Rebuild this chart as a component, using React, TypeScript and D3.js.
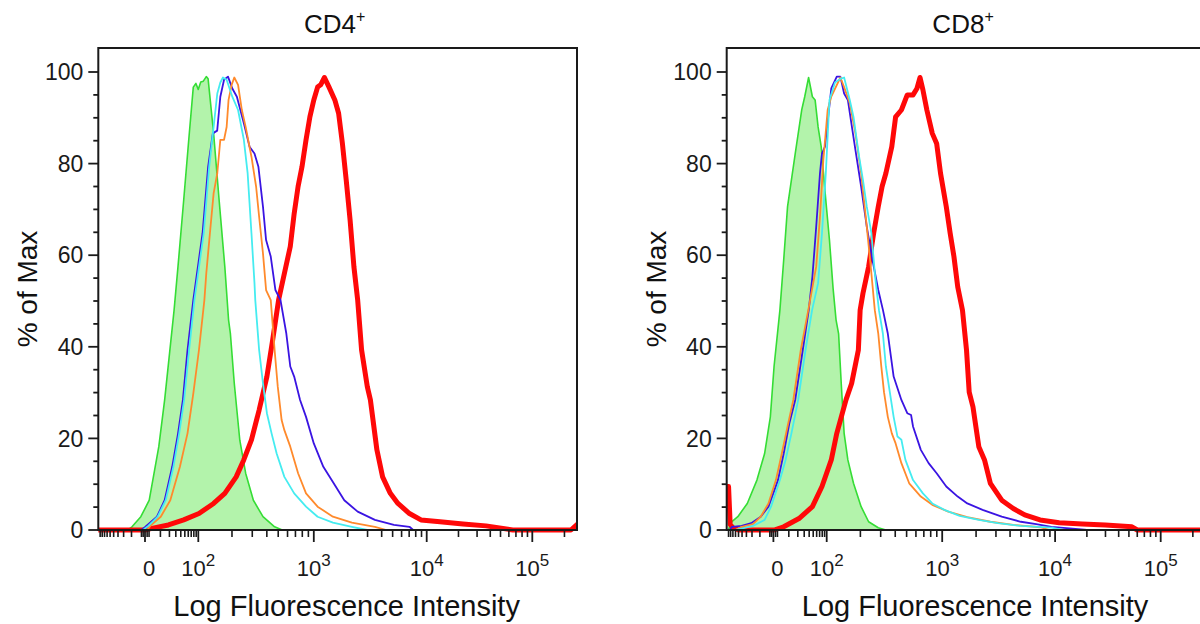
import React from 'react';
import * as d3 from 'd3';

type Pt = [number, number];

// ---------- text ----------
const panelTitles = ['CD4', 'CD8'];
const titleSup = '+';
const yAxisTitle = '% of Max';
const xAxisTitle = 'Log Fluorescence Intensity';

// ---------- ticks ----------
const yTickValues = [0, 20, 40, 60, 80, 100];
const yMinorStep = 5;
const xMajorTicks = [0, 100, 1000, 10000, 100000];
const xMajorExponents = ['', '2', '3', '4', '5'];
const xNegMinor = [-90, -80, -70, -60, -50, -40, -30, -20, -10, -2, -1, 1, 2];
const xLinMinor = [10, 20, 30, 40, 50, 60, 70, 80, 90];
const xDecadeMult = [2, 3, 4, 5, 6, 7, 8, 9];
const xDecades = [100, 1000, 10000];
const xTopMinor = [200000];

// ---------- data: CD4+ ----------
const cd4Green: Pt[] = [[-100,0],[-14,0],[-9.5,0.7],[-2.4,2.9],[2.1,6.5],[8.6,18.2],[14.2,28.4],[27,48],[34.1,57.5],[47,72],[61.6,85.2],[77.8,96.7],[88.8,97.5],[99.6,96.2],[105.3,97.8],[111.1,98],[118.2,99],[122.8,98.5],[137.6,86.6],[154.1,72],[173,57.5],[186.6,45.9],[193.8,42.8],[209.5,32],[234,19.6],[263,12.4],[306.6,6.5],[370.7,2.9],[466,0.7],[541,0],[262144,0]];
const cd4Blue: Pt[] = [[-100,0],[-2,0],[0.2,0.7],[7.1,2.9],[14.2,6.5],[24,13.8],[34.1,21],[45,28.4],[57.7,39.3],[77.8,50.2],[109.4,64.8],[122.8,79.3],[135.4,86.6],[148.1,87.2],[157.9,94.6],[170.3,98.3],[184.5,99],[201.3,96.4],[220.7,94.6],[253.7,88.8],[284.1,83.7],[313.4,82.2],[338.8,79.3],[370.7,70.6],[394.1,63.3],[432,59.7],[473.5,52.4],[523,50.2],[586,42.9],[633,35.7],[683,33.5],[766,28.4],[860,24.7],[1000,18.9],[1216,13.8],[1479,10.5],[1866,6.5],[2453,4],[3484,2.2],[5133,1.1],[7041,0.7],[7600,0],[262144,0]];
const cd4Cyan: Pt[] = [[-100,0],[-1,0],[1.1,0.7],[7.7,2.9],[15.4,6.5],[25.9,13.8],[36.4,21],[48.1,28.4],[62.7,39.3],[82.3,50.2],[112,64.8],[125.5,79.3],[137.6,88],[148.4,95.3],[157.9,97.7],[166.6,98.8],[179.5,98.3],[201.3,94.6],[226,91.7],[253.7,85.2],[273.6,77.9],[295.2,64.8],[313.4,53.9],[318.4,50.2],[343.6,39.3],[370.7,32],[400.5,25.5],[439,21.1],[485,16.7],[564,11.6],[683,8],[860,5.1],[1081,2.9],[1479,1.6],[2180,0.7],[2985,0],[262144,0]];
const cd4Orange: Pt[] = [[-100,0],[1,0],[3.2,1.1],[10.3,2.9],[21.2,6.5],[38.1,13.8],[57.7,21.1],[77.8,29.8],[101.4,39.3],[113.6,50.2],[118.2,56],[127.5,64.8],[137.6,73.5],[148.4,77.9],[157.9,85.2],[170.3,85.2],[179.5,88],[186.6,93.9],[198.6,97.2],[209.5,98.8],[226,97.2],[243.8,91.7],[263,88],[295.2,81.5],[323.6,75],[343.6,68.4],[370.7,60.4],[394.1,52.4],[432,50.2],[466,39.3],[495.7,31.3],[534.6,24],[564,21.8],[633,18.2],[737,12.4],[860,8],[1081,5.1],[1479,2.9],[2180,1.6],[3484,0.7],[4400,0],[262144,0]];
const cd4Red: Pt[] = [[-100,0],[0,0],[4.3,0.4],[18.7,1.1],[47,2.2],[101.4,3.6],[137.6,5.8],[173,8],[217.6,11.6],[253.2,15.3],[295.2,19.7],[343.6,26.2],[400.5,33.5],[448.7,41.5],[503.7,50.2],[564,56],[633,61.9],[683,69.1],[737,75],[795,79.3],[860,85.2],[927,90.2],[1000,93.9],[1081,96.7],[1151,97.2],[1244,98.8],[1366,96.7],[1538,93.9],[1662,91],[1796,84.4],[1941,76.4],[2101,67.7],[2271,57.5],[2453,50.2],[2657,39.3],[2985,31.3],[3179,28.4],[3629,17.5],[4076,11.6],[4770,8],[5570,5.8],[7041,3.6],[8903,2.2],[13366,1.8],[22070,1.3],[36430,0.9],[65360,0],[230000,0],[262144,1.2]];

// ---------- data: CD8+ ----------
const cd8Green: Pt[] = [[-100,0],[-90,0],[-82.3,1.5],[-52.2,2.9],[-28.2,5.8],[-13.3,10.9],[-5.7,16.7],[-1.7,24.7],[0.3,35.7],[3.4,48],[5.9,59],[8.9,70.6],[16.7,82.2],[25.7,91.7],[30.9,94.6],[38.7,98.8],[47.8,94.6],[55.3,93.9],[64.7,88],[75.9,83.7],[95.7,72],[106,63.3],[114.3,52.8],[121.6,45.9],[128.3,42.8],[135.4,32],[143.7,21.1],[155.1,15.3],[174,10.2],[203,5.1],[236,1.8],[286,0.5],[332,0],[262144,0]];
const cd8Blue: Pt[] = [[-100,0],[-85,0],[-73.9,0.7],[-41.2,0.9],[-21.2,1.5],[-9.2,2.9],[-2.9,5.1],[2.3,10.9],[5.9,16.7],[10.5,23.3],[16.7,28.4],[27.5,39.3],[39,48],[47.8,55.3],[58.6,66.2],[71.3,77.9],[78.9,82.2],[91.9,83.7],[110.1,96.4],[123.5,99],[133,99],[143.7,95.3],[155.1,93.9],[165,89.5],[180.9,83],[203,75],[227.5,66.2],[254.8,59],[286,52.4],[314,48],[345.5,42.9],[387.6,33.5],[451.4,28.4],[506.5,25.5],[546,25.1],[567,22.6],[660,17.5],[768,14.6],[897.8,12.4],[1087,9.5],[1374,7.3],[1672,5.8],[2284,4.4],[3375,2.9],[4983,1.8],[6811,1.3],[9302,0.7],[16620,0.2],[20000,0],[262144,0]];
const cd8Cyan: Pt[] = [[-100,0],[-60,0],[-41.2,0.3],[-18.4,0.9],[-5.7,2.2],[-1.3,5.1],[3.4,10.9],[7.3,15.3],[12.5,21.1],[20.5,28.4],[32.4,39.3],[47,48],[64.7,53.9],[78.9,64.8],[95.7,77.9],[106,93.9],[119,97.7],[133,98.5],[143.7,98.8],[161.3,93.9],[174,90.2],[194.9,81.5],[210.7,76.4],[227.5,70.6],[249.4,64.8],[268.8,55.3],[290,48],[313.4,42.9],[332.6,35.7],[359.5,30.1],[387.6,24.7],[418,20.4],[451.4,19.7],[488.5,15.3],[567,10.9],[687.5,8],[825,5.8],[1046,4.4],[1429,3.1],[2115,2.2],[3121,1.5],[4983,0.9],[9302,0.5],[12000,0],[262144,0]];
const cd8Orange: Pt[] = [[-100,0],[-60,0],[-41.2,0.7],[-18.4,1.3],[-9.2,2.9],[-2.9,5.8],[1.2,10.9],[4.6,16.7],[8.9,22.6],[14.5,28.4],[24.3,39.3],[38,48],[58.6,57.5],[71.3,68.4],[84.7,80.8],[102,91.7],[110.1,94.6],[133,98.8],[143.7,96.7],[161.3,93.2],[180.9,86.6],[203,77.9],[227.5,66.2],[249.4,56],[267,48],[286,42.9],[303.8,35.7],[320.5,30.1],[345.5,24.7],[373.8,21.1],[403,18.9],[451.4,14.6],[526,10.2],[660,7.3],[825,5.5],[1132,4],[1672,2.8],[2677,1.8],[4268,1.1],[7366,0.6],[9000,0],[262144,0]];
const cd8Red: Pt[] = [[-100,9.5],[-90,9.5],[-82,1.2],[-70,0.5],[-50,0],[0.3,0],[5.9,0.7],[21.6,2.5],[47.8,5.1],[78.9,9.5],[110.1,15.3],[123.5,21.1],[149.3,28.4],[167.5,32],[192,39.3],[199,48],[210.7,51.7],[236,57.5],[261,64.8],[286,70.6],[308.6,75],[332.6,77.9],[373.8,83.7],[403,90.2],[451.4,91.7],[506.5,95],[567,95],[612,96.4],[650,98.8],[687.5,96.1],[742.4,91.7],[825,86.6],[897.8,84.4],[968,77.9],[1087,70.6],[1177,64.8],[1272,59.7],[1374,53.1],[1515,48],[1645,39.3],[1738,30.1],[1877,26.9],[2115,18.2],[2376,15.3],[2677,10.2],[3375,6.5],[4268,4.7],[5389,3.3],[7366,2.2],[10935,1.6],[18070,1.3],[29840,1.1],[53400,0.7],[60000,0],[262144,0]];

// ---------- layout / style ----------
const W = 1200;
const H = 624;
const FONT = '"Liberation Sans", Arial, Helvetica, sans-serif';
const PANEL_LEFT = [98.3, 726.7];
const FRAME_W = 478.7;
const FRAME_TOP = 48;
const AXIS_Y = 530;
const Y_MAX = 105.24;
const X_DOMAIN = [-100, 0, 100, 1000, 10000, 100000, 262144];
const X_RANGE_REL = [0, 46.7, 100, 215.5, 328.4, 434, 478.7];
const COLORS = {
  greenFill: '#b3f3ab',
  green: '#35dd35',
  blue: '#3a14e2',
  cyan: '#45ecf0',
  orange: '#ff8a2c',
  red: '#ff0808',
};

const xMinorTicks = [
  ...xNegMinor,
  ...xLinMinor,
  ...xDecades.flatMap((d) => xDecadeMult.map((m) => m * d)),
  ...xTopMinor,
];

interface Series {
  green: Pt[];
  blue: Pt[];
  cyan: Pt[];
  orange: Pt[];
  red: Pt[];
}

const panels: { title: string; series: Series }[] = [
  { title: panelTitles[0], series: { green: cd4Green, blue: cd4Blue, cyan: cd4Cyan, orange: cd4Orange, red: cd4Red } },
  { title: panelTitles[1], series: { green: cd8Green, blue: cd8Blue, cyan: cd8Cyan, orange: cd8Orange, red: cd8Red } },
];

function Panel({ idx, left, title, series }: { idx: number; left: number; title: string; series: Series }) {
  const x = d3
    .scaleSymlog()
    .constant(10)
    .domain(X_DOMAIN)
    .range(X_RANGE_REL.map((r) => left + r));
  const y = d3.scaleLinear().domain([0, Y_MAX]).range([AXIS_Y, FRAME_TOP]);
  const line = d3
    .line<Pt>()
    .x((d) => x(d[0]))
    .y((d) => y(d[1]));
  const area = d3
    .area<Pt>()
    .x((d) => x(d[0]))
    .y0(y(0))
    .y1((d) => y(d[1]));
  const clipId = `clip-${idx}`;
  const yMinor = d3.range(0, 100 + 0.001, yMinorStep);
  const cx = left + FRAME_W / 2;

  return (
    <g>
      <defs>
        <clipPath id={clipId}>
          <rect x={left} y={FRAME_TOP} width={FRAME_W} height={AXIS_Y - FRAME_TOP + 4} />
        </clipPath>
      </defs>
      <g clipPath={`url(#${clipId})`} strokeLinejoin="round" strokeLinecap="round" fill="none">
        <path d={area(series.green) || ''} fill={COLORS.greenFill} stroke="none" />
        <path d={line(series.green) || ''} stroke={COLORS.green} strokeWidth={1.6} />
        <path d={line(series.red) || ''} stroke={COLORS.red} strokeWidth={5} />
        <path d={line(series.blue) || ''} stroke={COLORS.blue} strokeWidth={1.8} />
        <path d={line(series.orange) || ''} stroke={COLORS.orange} strokeWidth={1.8} />
        <path d={line(series.cyan) || ''} stroke={COLORS.cyan} strokeWidth={1.8} />
      </g>
      {/* frame */}
      <rect x={left} y={FRAME_TOP} width={FRAME_W} height={AXIS_Y - FRAME_TOP} fill="none" stroke="#1a1a1a" strokeWidth={2} />
      {/* y ticks */}
      {yMinor.map((v) => {
        const major = yTickValues.includes(v);
        return (
          <line key={`ym${v}`} x1={left - (major ? 10 : 5)} x2={left} y1={y(v)} y2={y(v)} stroke="#1a1a1a" strokeWidth={1.8} />
        );
      })}
      {yTickValues.map((v) => (
        <text key={`yl${v}`} x={left - 15} y={y(v)} dy="0.36em" textAnchor="end" fontSize={23} fill="#1a1a1a">
          {v}
        </text>
      ))}
      {/* x ticks */}
      {xMinorTicks.map((v) => (
        <line key={`xm${v}`} x1={x(v)} x2={x(v)} y1={AXIS_Y} y2={AXIS_Y + 7} stroke="#1a1a1a" strokeWidth={1.6} />
      ))}
      {xMajorTicks.map((v) => (
        <line key={`xM${v}`} x1={x(v)} x2={x(v)} y1={AXIS_Y} y2={AXIS_Y + 12} stroke="#1a1a1a" strokeWidth={1.8} />
      ))}
      {xMajorTicks.map((v, i) =>
        xMajorExponents[i] === '' ? (
          <text key={`xl${v}`} x={x(v) + 4} y={576} textAnchor="middle" fontSize={22} fill="#1a1a1a">
            0
          </text>
        ) : (
          <text key={`xl${v}`} x={x(v)} y={576} textAnchor="middle" fontSize={22} fill="#1a1a1a">
            10
            <tspan fontSize={17} dy={-10}>
              {xMajorExponents[i]}
            </tspan>
          </text>
        )
      )}
      {/* titles */}
      <text x={cx - 3} y={33} textAnchor="middle" fontSize={26} fill="#111">
        {title}
        <tspan fontSize={16} dy={-11}>
          {titleSup}
        </tspan>
      </text>
      <text x={cx + 9} y={616} textAnchor="middle" fontSize={29} fill="#111">
        {xAxisTitle}
      </text>
      <text
        transform={`translate(${left - 71}, ${(FRAME_TOP + AXIS_Y) / 2}) rotate(-90)`}
        textAnchor="middle"
        dy="0.35em"
        fontSize={28}
        fill="#111"
      >
        {yAxisTitle}
      </text>
    </g>
  );
}

export default function App() {
  return (
    <svg
      width={W}
      height={H}
      viewBox={`0 0 ${W} ${H}`}
      style={{ position: 'absolute', left: 0, top: 0, background: '#fff' }}
      fontFamily={FONT}
    >
      <rect x={0} y={0} width={W} height={H} fill="#fff" />
      {panels.map((p, i) => (
        <Panel key={i} idx={i} left={PANEL_LEFT[i]} title={p.title} series={p.series} />
      ))}
    </svg>
  );
}
